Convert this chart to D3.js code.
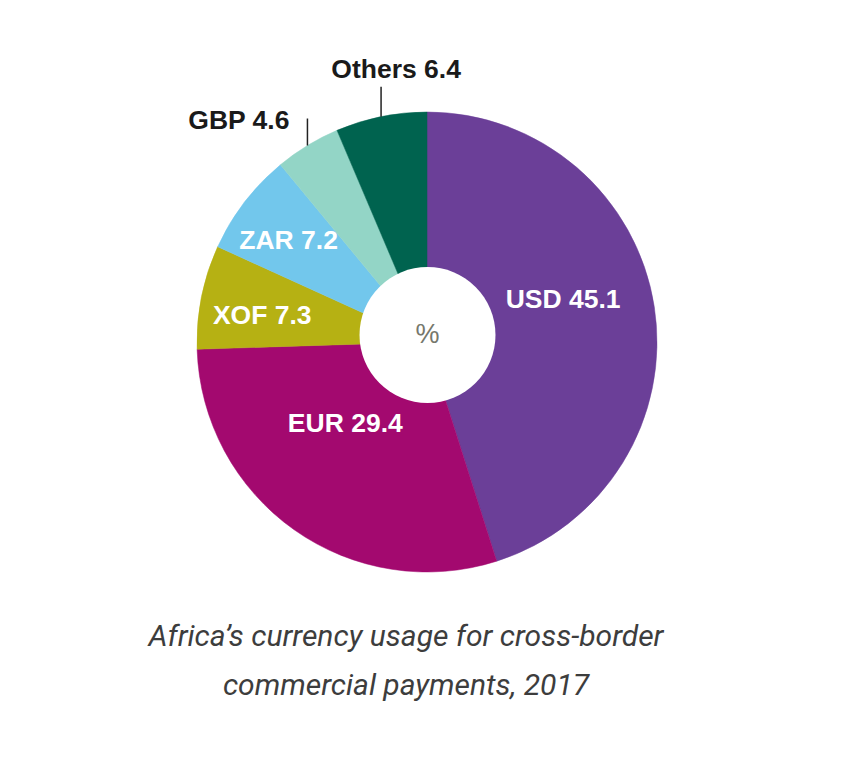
<!DOCTYPE html>
<html><head><meta charset="utf-8">
<script src="https://cdn.jsdelivr.net/npm/d3@7"></script>
<style>
html,body{margin:0;padding:0;background:#fff;}
svg{display:block;}
</style>
</head><body>
<svg id="chart" width="862" height="758"></svg>
<script>
// ---- data ----
const categories = ["USD", "EUR", "XOF", "ZAR", "GBP", "Others"];
const values = [45.1, 29.4, 7.3, 7.2, 4.6, 6.4];
const colors = ["#6b3f98", "#a3096f", "#b6b113", "#72c7ec", "#93d5c6", "#00634f"];
const captionLines = ["Africa\u2019s currency usage for cross-border", "commercial payments, 2017"];
const centerText = "%";

// ---- layout (not data) ----
const cx = 427, cy = 342, R = 230;
const hole = {dx: 0.5, dy: -7, r: 68};
const labelLayout = {
  USD:    {type: "in", r: 143, da: -9},
  EUR:    {type: "in", r: 115, da: 10},
  XOF:    {type: "in", r: 167, da: -2},
  ZAR:    {type: "in", r: 172, da: -1},
  GBP:    {type: "out", len: 27, anchor: "end", tdx: -18, tdy: 10},
  Others: {type: "out", len: 30, anchor: "middle", tdx: 15, tdy: -9}
};
const labelSize = 26.5;

const svg = d3.select("#chart");
const g = svg.append("g").attr("transform", `translate(${cx},${cy})`);

const data = categories.map((c, i) => ({cat: c, value: values[i], color: colors[i]}));
const pie = d3.pie().value(d => d.value).sort(null);
const arcs = pie(data);
const arc = d3.arc().innerRadius(0).outerRadius(R);

g.selectAll("path.slice").data(arcs).join("path")
  .attr("class", "slice")
  .attr("d", arc)
  .attr("fill", d => d.data.color)
  .attr("stroke", d => d.data.color)
  .attr("stroke-width", 0.5);

// hole
g.append("circle")
  .attr("cx", hole.dx).attr("cy", hole.dy).attr("r", hole.r)
  .attr("fill", "#ffffff");
g.append("text")
  .attr("x", hole.dx).attr("y", hole.dy + 8)
  .attr("text-anchor", "middle")
  .attr("font-family", "Liberation Sans, Arial, sans-serif")
  .attr("font-size", 27)
  .attr("fill", "#76786c")
  .text(centerText);

const labelFont = "Liberation Sans, Arial, Helvetica, sans-serif";
arcs.forEach(a => {
  const L = labelLayout[a.data.cat];
  const mid = (a.startAngle + a.endAngle) / 2;
  const txt = `${a.data.cat} ${a.data.value}`;
  if (L.type === "in") {
    const ang = mid + L.da * Math.PI / 180;
    const x = L.r * Math.sin(ang), y = -L.r * Math.cos(ang);
    g.append("text")
      .attr("x", x).attr("y", y + 9.5)
      .attr("text-anchor", "middle")
      .attr("font-family", labelFont)
      .attr("font-weight", "bold")
      .attr("font-size", labelSize)
      .attr("fill", "#ffffff")
      .text(txt);
  } else {
    const x0 = R * Math.sin(mid), y0 = -R * Math.cos(mid);
    g.append("line")
      .attr("x1", x0).attr("y1", y0)
      .attr("x2", x0).attr("y2", y0 - L.len)
      .attr("stroke", "#222").attr("stroke-width", 1.5);
    g.append("text")
      .attr("x", x0 + L.tdx).attr("y", y0 - L.len + L.tdy)
      .attr("text-anchor", L.anchor)
      .attr("font-family", labelFont)
      .attr("font-weight", "bold")
      .attr("font-size", labelSize)
      .attr("fill", "#1a1a1a")
      .text(txt);
  }
});

// caption
svg.append("g").selectAll("text").data(captionLines).join("text")
  .attr("x", 406)
  .attr("y", (d, i) => 646 + i * 49)
  .attr("text-anchor", "middle")
  .attr("font-family", "Roboto, sans-serif")
  .attr("font-style", "italic")
  .attr("font-size", 30)
  .attr("fill", "#3d3d3d")
  .text(d => d);
</script>
</body></html>
